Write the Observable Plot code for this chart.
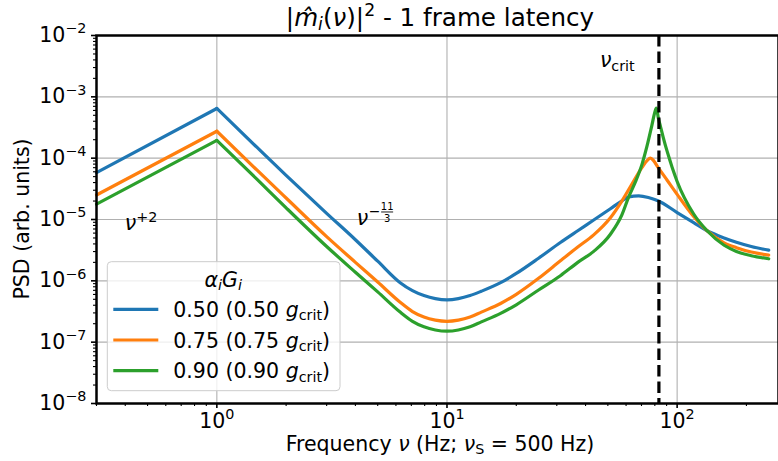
<!DOCTYPE html>
<html><head><meta charset="utf-8">
<script src="https://cdn.jsdelivr.net/npm/d3@7"></script>
<script src="https://cdn.jsdelivr.net/npm/@observablehq/plot@0.6"></script>
<style>html,body{margin:0;padding:0;background:#fff;} svg{display:block}</style>
</head><body><div id="chart"></div>
<script>
// ---- data ----
const seriesNames = ["0.50", "0.75", "0.90"];
const seriesColors = ["#1f77b4", "#ff7f0e", "#2ca02c"];

const freqBlue = [0.3, 1, 1.5, 2, 3, 4, 5, 6.26, 7.08, 7.94, 8.9, 10, 11.2, 12.6, 14.1, 17.1, 20, 25, 31.1, 37, 43.4, 51.3, 57.6, 61.6, 68.1, 75, 82.6, 100, 118, 135, 160, 181, 210, 250];
const psdBlue = [5.83e-5, 6.46e-4, 1.48e-4, 5.25e-5, 1.26e-5, 4.68e-6, 2.09e-6, 9.33e-7, 6.92e-7, 5.75e-7, 5.13e-7, 4.9e-7, 5.13e-7, 5.75e-7, 6.76e-7, 9.33e-7, 1.32e-6, 2.34e-6, 4.22e-6, 6.56e-6, 9.8e-6, 1.5e-5, 2.02e-5, 2.34e-5, 2.43e-5, 2.29e-5, 2.02e-5, 1.30e-5, 8.9e-6, 6.55e-6, 5.0e-6, 4.27e-6, 3.63e-6, 3.16e-6];

const freqOrange = [0.3, 1, 1.5, 2, 3, 4, 5, 6.26, 7.08, 7.94, 8.9, 10, 11.2, 12.6, 14.1, 17.1, 20, 25, 31.1, 37, 43.4, 51.3, 57.6, 63, 70.4, 74, 76.6, 79, 82.6, 90.5, 100, 118, 135, 160, 181, 210, 250];
const psdOrange = [2.51e-5, 2.75e-4, 6.3e-5, 2.24e-5, 5.25e-6, 2.0e-6, 9.55e-7, 4.47e-7, 3.16e-7, 2.57e-7, 2.29e-7, 2.19e-7, 2.29e-7, 2.57e-7, 3.09e-7, 4.27e-7, 6.03e-7, 1.10e-6, 2.12e-6, 3.55e-6, 5.62e-6, 1.07e-5, 2.02e-5, 3.55e-5, 7.08e-5, 9.1e-5, 1.0e-4, 9.1e-5, 7.08e-5, 4.37e-5, 2.57e-5, 1.12e-5, 6.55e-6, 4.17e-6, 3.47e-6, 2.95e-6, 2.63e-6];

const freqGreen = [0.3, 1, 1.5, 2, 3, 4, 5, 6.26, 7.08, 7.94, 8.9, 10, 11.2, 12.6, 14.1, 17.1, 20, 25, 31.1, 37, 43.4, 51.3, 57.6, 61.6, 66, 70.4, 74, 77.5, 80, 81.2, 83, 84.6, 87, 90.5, 100, 118, 135, 160, 181, 210, 250];
const psdGreen = [1.78e-5, 1.95e-4, 4.47e-5, 1.55e-5, 3.63e-6, 1.38e-6, 6.6e-7, 3.09e-7, 2.19e-7, 1.78e-7, 1.58e-7, 1.51e-7, 1.58e-7, 1.78e-7, 2.14e-7, 2.95e-7, 4.07e-7, 7.08e-7, 1.21e-6, 2.0e-6, 3.02e-6, 5.75e-6, 1.2e-5, 2.34e-5, 4.17e-5, 8.0e-5, 1.58e-4, 3.31e-4, 5.62e-4, 6.55e-4, 4.37e-4, 3.31e-4, 2.19e-4, 1.29e-4, 4.17e-5, 1.23e-5, 6.55e-6, 3.8e-6, 3.02e-6, 2.57e-6, 2.29e-6];

const nuCrit = [83.33];
const nuBreak = 1;   // sharp corner of the input spectrum
const xMajorTicks = [1, 10, 100];
const yMajorTicks = [1e-8, 1e-7, 1e-6, 1e-5, 1e-4, 1e-3, 1e-2];
const xDomain = [0.3, 275.7];
const yDomain = [1e-8, 1e-2];

// annotation anchors (data coords)
const annPlus2 = {x: 0.40, y: 6.55e-6};
const annMinus = {x: 4.07, y: 7.9e-6};
const annCrit = {x: 46.4, y: 3.0e-3};

// ---- build table ----
const rows = [];
[[freqBlue, psdBlue], [freqOrange, psdOrange], [freqGreen, psdGreen]].forEach(([f, p], i) =>
  f.forEach((v, j) => rows.push({series: seriesNames[i], freq: v, psd: p[j]})));
const rowsLow = rows.filter(d => d.freq <= nuBreak);
const rowsHigh = rows.filter(d => d.freq >= nuBreak);

const xMinor = [], yMinor = [];
for (let k = -1; k <= 2; k++) for (let m = 2; m <= 9; m++) {
  const v = m * Math.pow(10, k);
  if (v >= xDomain[0] && v <= xDomain[1]) xMinor.push(v);
}
for (let k = -8; k <= -3; k++) for (let m = 2; m <= 9; m++) yMinor.push(m * Math.pow(10, k));

const FONT = "DejaVu Sans";
const FS = 20.5;
const expFmt = d => "10^" + Math.round(Math.log10(d));

const plot = Plot.plot({
  width: 778, height: 461,
  marginLeft: 96, marginRight: 0, marginTop: 35, marginBottom: 58,
  style: {fontFamily: FONT, fontSize: FS + "px", background: "white", color: "black", overflow: "visible"},
  x: {type: "log", domain: xDomain},
  y: {type: "log", domain: yDomain},
  color: {domain: seriesNames, range: seriesColors},
  marks: [
    Plot.gridX(xMajorTicks, {stroke: "#b0b0b0", strokeOpacity: 1, strokeWidth: 1.1}),
    Plot.gridY(yMajorTicks, {stroke: "#b0b0b0", strokeOpacity: 1, strokeWidth: 1.1}),
    Plot.line(rowsLow, {x: "freq", y: "psd", z: "series", stroke: "series", strokeWidth: 3.2, curve: "linear", strokeLinejoin: "round"}),
    Plot.line(rowsHigh, {x: "freq", y: "psd", z: "series", stroke: "series", strokeWidth: 3.2, curve: "monotone-x", strokeLinejoin: "round"}),
    Plot.ruleX(nuCrit, {stroke: "black", strokeWidth: 3.2, strokeDasharray: "11.5,5"}),
    Plot.axisX({ticks: xMajorTicks, tickSize: 5, tickPadding: 5, tickFormat: expFmt, label: null, strokeWidth: 1.6}),
    Plot.axisX({ticks: xMinor, tickSize: 3, tickFormat: () => "", label: null, strokeWidth: 1.1}),
    Plot.axisY({ticks: yMajorTicks, tickSize: 5, tickPadding: 5, tickFormat: expFmt, label: null, strokeWidth: 1.6}),
    Plot.axisY({ticks: yMinor, tickSize: 3, tickFormat: () => "", label: null, strokeWidth: 1.1}),
    Plot.frame({stroke: "black", strokeWidth: 2.5})
  ]
});

document.getElementById("chart").appendChild(plot);
const svg = d3.select(plot);
const sx = plot.scale("x"), sy = plot.scale("y");

// superscript exponents in tick labels
svg.selectAll('g[aria-label$="tick label"] text').each(function() {
  const t = this.textContent;
  if (!t.startsWith("10^")) return;
  const e = t.slice(3).replace("-", "\u2212");
  const el = d3.select(this);
  el.text(null);
  el.append("tspan").text("10");
  el.append("tspan").text(e).attr("font-size", FS * 0.7).attr("dy", -FS * 0.42);
});

function rich(g, x, y, segs, size, anchor) {
  const text = g.append("text").attr("x", x).attr("y", y)
    .attr("font-family", FONT).attr("font-size", size)
    .attr("text-anchor", anchor || "start").attr("fill", "black");
  let cur = 0;
  segs.forEach(s => {
    const sh = (s.shift || 0) * size;
    const ts = text.append("tspan").text(s.t).attr("dy", sh - cur)
      .attr("font-size", (s.scale || 1) * size);
    if (s.italic) ts.attr("font-style", "italic");
    cur = sh;
  });
  return text;
}

const ann = svg.append("g");
// title
rich(ann, 440, 26, [
  {t: "|"}, {t: "m\u0302", italic: true}, {t: "i", italic: true, scale: 0.7, shift: 0.17},
  {t: "("}, {t: "\u03bd", italic: true}, {t: ")|"}, {t: "2", scale: 0.7, shift: -0.42},
  {t: " - 1 frame latency"}
], 24.6, "middle");
// x label
rich(ann, 440, 451, [
  {t: "Frequency "}, {t: "\u03bd", italic: true}, {t: " (Hz; "}, {t: "\u03bd", italic: true},
  {t: "S", scale: 0.7, shift: 0.17}, {t: " = 500 Hz)"}
], FS, "middle");
// y label
ann.append("g").attr("transform", "translate(28.5,219) rotate(-90)")
  .call(g => rich(g, 0, 0, [{t: "PSD (arb. units)"}], FS, "middle"));

// annotations
rich(ann, sx.apply(annPlus2.x), sy.apply(annPlus2.y), [
  {t: "\u03bd", italic: true}, {t: "+2", scale: 0.7, shift: -0.42}
], FS);
{
  const ax = sx.apply(annMinus.x), ay = sy.apply(annMinus.y);
  rich(ann, ax, ay, [{t: "\u03bd", italic: true}], FS);
  rich(ann, ax + 12.2, ay - 9.5, [{t: "\u2212"}], 14);
  rich(ann, ax + 30.5, ay - 15.3, [{t: "11"}], 10, "middle");
  rich(ann, ax + 30.5, ay - 3.3, [{t: "3"}], 10, "middle");
  ann.append("line").attr("x1", ax + 24.5).attr("x2", ax + 36.5)
    .attr("y1", ay - 13.3).attr("y2", ay - 13.3).attr("stroke", "black").attr("stroke-width", 0.9);
}
rich(ann, sx.apply(annCrit.x), sy.apply(annCrit.y), [
  {t: "\u03bd", italic: true}, {t: "crit", scale: 0.7, shift: 0.17}
], FS);

// legend
const lg = svg.append("g");
lg.append("rect").attr("x", 107.3).attr("y", 261.7).attr("width", 232.7).attr("height", 129)
  .attr("rx", 4).attr("fill", "white").attr("fill-opacity", 0.8)
  .attr("stroke", "#cccccc").attr("stroke-width", 1);
rich(lg, 223.3, 287, [
  {t: "\u03b1", italic: true}, {t: "i", italic: true, scale: 0.7, shift: 0.17},
  {t: "G", italic: true}, {t: "i", italic: true, scale: 0.7, shift: 0.17}
], FS, "middle");
const legendY = [309.3, 340, 370.7];
seriesNames.forEach((name, i) => {
  lg.append("line").attr("x1", 113.3).attr("x2", 158.3)
    .attr("y1", legendY[i]).attr("y2", legendY[i])
    .attr("stroke", seriesColors[i]).attr("stroke-width", 3.2);
  rich(lg, 173.3, legendY[i] + 7.5, [
    {t: name + " (" + name + " "}, {t: "g", italic: true},
    {t: "crit", scale: 0.7, shift: 0.17}, {t: ")"}
  ], FS);
});
</script>
</body></html>
